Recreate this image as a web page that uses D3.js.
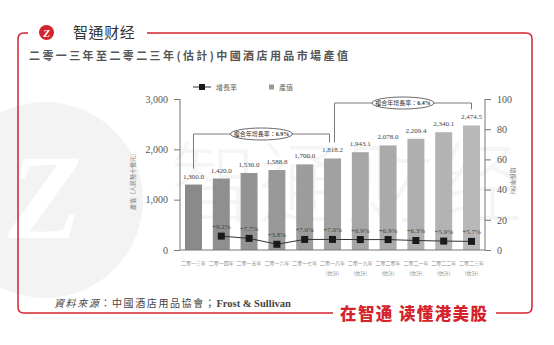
<!DOCTYPE html>
<html>
<head>
<meta charset="utf-8">
<script src="https://cdn.jsdelivr.net/npm/d3@7/dist/d3.min.js"></script>
<style>
  html, body { margin: 0; padding: 0; background: #fff; }
  svg { display: block; }
</style>
</head>
<body>
<svg id="chart" width="554" height="345"></svg>
<script>
// Hotel supplies market output, 2013–2023 (estimates from 2018)
const years = ['二零一三年','二零一四年','二零一五年','二零一六年','二零一七年','二零一八年','二零一九年','二零二零年','二零二一年','二零二二年','二零二三年'];
const yearNotes = ['','','','','','(估計)','(估計)','(估計)','(估計)','(估計)','(估計)'];
const output = [1300.0, 1420.0, 1530.0, 1588.8, 1700.0, 1818.2, 1943.1, 2078.0, 2209.4, 2340.1, 2474.5];
const growth = [null, 9.2, 7.7, 3.8, 7.0, 7.0, 6.9, 6.9, 6.3, 5.9, 5.7];
const leftTicks = [0, 1000, 2000, 3000];
const rightTicks = [0, 20, 40, 60, 80, 100];
const cagrSpans = [
  { from: 0, to: 5, rate: '6.9%' },
  { from: 5, to: 10, rate: '6.4%' }
];

const svg = d3.select('#chart');
const RED = '#d4232b';
const serif = '"Liberation Serif", "Times New Roman", serif';
const cjk = '"Noto Sans CJK TC", "Noto Sans CJK SC", sans-serif';

// faint brand watermark
const wm = svg.append('g').attr('pointer-events', 'none');
wm.append('circle').attr('cx', 45).attr('cy', 200).attr('r', 98).attr('fill', '#f3f3f3');
wm.append('text').attr('x', 45).attr('y', 238).attr('text-anchor', 'middle')
  .attr('font-family', serif).attr('font-style', 'italic').attr('font-weight', 'bold')
  .attr('font-size', 120).attr('fill', '#fff').text('Z');
wm.append('text').attr('x', 170).attr('y', 215)
  .attr('font-family', cjk).attr('font-size', 88).attr('font-weight', 300)
  .attr('fill', '#000').attr('fill-opacity', 0.04).text('智通财经');

// red frame
const frame = d3.path();
frame.moveTo(28, 33); frame.lineTo(24, 33);
frame.quadraticCurveTo(18, 33, 18, 39);
frame.lineTo(18, 307);
frame.quadraticCurveTo(18, 313, 24, 313);
frame.lineTo(333, 313);
svg.append('path').attr('d', frame.toString()).attr('fill', 'none').attr('stroke', RED).attr('stroke-width', 1.5);
const frame2 = d3.path();
frame2.moveTo(147, 33); frame2.lineTo(526, 33);
frame2.quadraticCurveTo(532, 33, 532, 39);
frame2.lineTo(532, 307);
frame2.quadraticCurveTo(532, 313, 526, 313);
frame2.lineTo(496, 313);
svg.append('path').attr('d', frame2.toString()).attr('fill', 'none').attr('stroke', RED).attr('stroke-width', 1.5);

// logo
svg.append('circle').attr('cx', 46.5).attr('cy', 32.5).attr('r', 7.5).attr('fill', RED);
svg.append('text').attr('x', 46.5).attr('y', 36.5).attr('text-anchor', 'middle')
  .attr('font-family', serif).attr('font-style', 'italic').attr('font-weight', 'bold')
  .attr('font-size', 11).attr('fill', '#fff').text('Z');
svg.append('text').attr('x', 73).attr('y', 38)
  .attr('font-family', cjk).attr('font-size', 15).attr('fill', '#333').attr('letter-spacing', 0.6)
  .text('智通财经');

// title
svg.append('text').attr('x', 29).attr('y', 60)
  .attr('font-family', cjk).attr('font-size', 11).attr('font-weight', 'bold')
  .attr('letter-spacing', 2.4).attr('fill', '#555')
  .text('二零一三年至二零二三年(估計)中國酒店用品市場產值');

// scales
const x = d3.scaleBand().domain(years).range([180, 485]).paddingInner(0.39).paddingOuter(0.18);
const yL = d3.scaleLinear().domain([0, 3000]).range([250, 99]);
const yR = d3.scaleLinear().domain([0, 100]).range([250, 99]);
const shade = d3.scaleLinear().domain([0, years.length - 1]).range(['#8a8a8a', '#b8b8b8']);

// bars
svg.append('g').selectAll('rect').data(output).join('rect')
  .attr('x', (d, i) => x(years[i]))
  .attr('y', d => yL(d))
  .attr('width', x.bandwidth())
  .attr('height', d => yL(0) - yL(d))
  .attr('fill', (d, i) => shade(i));

// bar value labels
svg.append('g').selectAll('text').data(output).join('text')
  .attr('x', (d, i) => x(years[i]) + x.bandwidth() / 2)
  .attr('y', d => yL(d) - 6)
  .attr('text-anchor', 'middle')
  .attr('font-family', serif).attr('font-size', 7).attr('fill', '#444')
  .text(d => d3.format(',.1f')(d));

// axes
const axisColor = '#777';
const gL = svg.append('g').attr('transform', 'translate(180,0)')
  .call(d3.axisLeft(yL).tickValues(leftTicks).tickFormat(d3.format(',')).tickSize(6).tickPadding(6));
const gR = svg.append('g').attr('transform', 'translate(485,0)')
  .call(d3.axisRight(yR).tickValues(rightTicks).tickSize(6).tickPadding(6));
[gL, gR].forEach(g => {
  g.select('.domain').attr('stroke', axisColor).attr('d', 'M0,99V250');
  g.selectAll('.tick line').attr('stroke', axisColor);
  g.selectAll('.tick text').attr('font-family', serif).attr('font-size', 10).attr('fill', '#555');
});
svg.append('line').attr('x1', 180).attr('x2', 485).attr('y1', 250).attr('y2', 250)
  .attr('stroke', axisColor);

// category labels
const cat = svg.append('g');
cat.selectAll('text.yr').data(years).join('text').attr('class', 'yr')
  .attr('x', d => x(d) + x.bandwidth() / 2).attr('y', 265)
  .attr('text-anchor', 'middle').attr('font-family', cjk).attr('font-size', 5).attr('fill', '#888')
  .text(d => d);
cat.selectAll('text.nt').data(yearNotes).join('text').attr('class', 'nt')
  .attr('x', (d, i) => x(years[i]) + x.bandwidth() / 2).attr('y', 275)
  .attr('text-anchor', 'middle').attr('font-family', cjk).attr('font-size', 5).attr('fill', '#888')
  .text(d => d);

// axis titles
svg.append('text').attr('transform', 'translate(135,180) rotate(-90)')
  .attr('text-anchor', 'middle').attr('font-family', cjk).attr('font-size', 6).attr('fill', '#777')
  .text('產值（人民幣十億元）');
svg.append('text').attr('transform', 'translate(511,181) rotate(90)')
  .attr('text-anchor', 'middle').attr('font-family', cjk).attr('font-size', 6).attr('fill', '#777')
  .text('增長率(%)');

// growth line
const gPts = growth.map((g, i) => ({ g, i })).filter(d => d.g !== null);
const cx = d => x(years[d.i]) + x.bandwidth() / 2;
svg.append('path').datum(gPts)
  .attr('d', d3.line().x(cx).y(d => yR(d.g)))
  .attr('fill', 'none').attr('stroke', '#333').attr('stroke-width', 1);
svg.append('g').selectAll('rect').data(gPts).join('rect')
  .attr('x', d => cx(d) - 3.5).attr('y', d => yR(d.g) - 3.5)
  .attr('width', 7).attr('height', 7).attr('fill', '#1a1a1a');
svg.append('g').selectAll('text').data(gPts).join('text')
  .attr('x', cx).attr('y', d => yR(d.g) - 7)
  .attr('text-anchor', 'middle').attr('font-family', serif).attr('font-size', 7).attr('fill', '#444')
  .text(d => '+' + d.g.toFixed(1) + '%');

// CAGR brackets
const bracketY = [134, 103];
cagrSpans.forEach((s, k) => {
  const x1 = x(years[s.from]) + x.bandwidth() / 2 + (k === 1 ? 2 : 0);
  const x2 = x(years[s.to]) + x.bandwidth() / 2 + (k === 0 ? -3 : 0);
  const yTop = bracketY[k];
  const y1 = yL(output[s.from]) - 16;
  const y2 = yL(output[s.to]) - 16;
  const g = svg.append('g');
  g.append('path')
    .attr('d', `M${x1},${y1}V${yTop}H${x2}V${y2}`)
    .attr('fill', 'none').attr('stroke', '#555').attr('stroke-width', 0.8);
  const mx = (x1 + x2) / 2;
  g.append('ellipse').attr('cx', mx).attr('cy', yTop).attr('rx', 31).attr('ry', 6)
    .attr('fill', '#fff').attr('stroke', '#444').attr('stroke-width', 0.8);
  const t = g.append('text').attr('x', mx).attr('y', yTop + 2).attr('text-anchor', 'middle')
    .attr('font-size', 6).attr('fill', '#333').attr('font-family', cjk);
  t.append('tspan').text('複合年增長率：');
  t.append('tspan').attr('font-weight', 'bold').attr('font-family', serif).text(s.rate);
});

// legend
const lg = svg.append('g');
lg.append('line').attr('x1', 193).attr('x2', 211).attr('y1', 87).attr('y2', 87).attr('stroke', '#333');
lg.append('rect').attr('x', 199).attr('y', 84).attr('width', 6).attr('height', 6).attr('fill', '#1a1a1a');
lg.append('text').attr('x', 216).attr('y', 89.5).attr('font-family', cjk).attr('font-size', 7).attr('fill', '#666').text('增長率');
lg.append('rect').attr('x', 269).attr('y', 84.5).attr('width', 5).attr('height', 5).attr('fill', '#999');
lg.append('text').attr('x', 279).attr('y', 89.5).attr('font-family', cjk).attr('font-size', 7).attr('fill', '#666').text('產值');

// source
const src = svg.append('text').attr('x', 54).attr('y', 307).attr('font-size', 10).attr('fill', '#444');
src.append('tspan').attr('font-family', cjk).attr('font-style', 'italic').attr('letter-spacing', 1.6).text('資料來源');
src.append('tspan').attr('font-family', cjk).attr('letter-spacing', 1.6).text('：中國酒店用品協會；');
src.append('tspan').attr('font-family', serif).attr('font-weight', 'bold').attr('font-size', 10.5).text('Frost & Sullivan');

// slogan
svg.append('text').attr('x', 340).attr('y', 320)
  .attr('font-family', '"Noto Sans CJK SC", sans-serif').attr('font-weight', 900)
  .attr('font-size', 16.5).attr('fill', RED).attr('letter-spacing', 1.4)
  .text('在智通 读懂港美股');
</script>
</body>
</html>
